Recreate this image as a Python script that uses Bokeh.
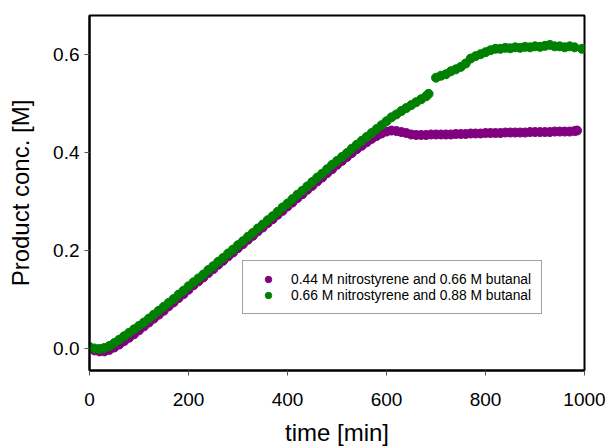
from bokeh.plotting import figure
from bokeh.models import Legend, LegendItem, FixedTicker, PrintfTickFormatter, Range1d
from bokeh.embed import file_html
from bokeh.resources import INLINE

# ---- data ----
time_purple = [0, 10, 20, 30, 40, 50, 60, 70, 80, 90,
               100, 110, 120, 130, 140, 150, 160, 170, 180, 190,
               200, 210, 220, 230, 240, 250, 260, 270, 280, 290,
               300, 310, 320, 330, 340, 350, 360, 370, 380, 390,
               400, 410, 420, 430, 440, 450, 460, 470, 480, 490,
               500, 510, 520, 530, 540, 550, 560, 570, 580, 590,
               600, 610, 620, 630, 640, 650, 660, 670, 680, 690,
               700, 710, 720, 730, 740, 750, 760, 770, 780, 790,
               800, 810, 820, 830, 840, 850, 860, 870, 880, 890,
               900, 910, 920, 930, 940, 950, 960, 970, 980, 985]
conc_purple = [0.000, -0.004, -0.006, -0.006, -0.003, 0.002, 0.008, 0.015, 0.022, 0.029,
               0.037, 0.045, 0.053, 0.061, 0.069, 0.077, 0.086, 0.094, 0.103, 0.111,
               0.120, 0.129, 0.137, 0.145, 0.154, 0.162, 0.171, 0.179, 0.188, 0.196,
               0.205, 0.213, 0.222, 0.230, 0.239, 0.247, 0.256, 0.264, 0.273, 0.281,
               0.290, 0.298, 0.307, 0.315, 0.324, 0.332, 0.341, 0.349, 0.358, 0.366,
               0.375, 0.383, 0.391, 0.399, 0.407, 0.414, 0.421, 0.428, 0.434, 0.439,
               0.443, 0.445, 0.444, 0.442, 0.440, 0.437, 0.436, 0.436, 0.436, 0.437,
               0.437, 0.437, 0.437, 0.437, 0.438, 0.438, 0.438, 0.439, 0.439, 0.439,
               0.440, 0.440, 0.440, 0.440, 0.441, 0.441, 0.441, 0.441, 0.441, 0.442,
               0.442, 0.442, 0.442, 0.442, 0.443, 0.443, 0.443, 0.443, 0.444, 0.445]

time_green = [0, 10, 20, 30, 40, 50, 60, 70, 80, 90,
              100, 110, 120, 130, 140, 150, 160, 170, 180, 190,
              200, 210, 220, 230, 240, 250, 260, 270, 280, 290,
              300, 310, 320, 330, 340, 350, 360, 370, 380, 390,
              400, 410, 420, 430, 440, 450, 460, 470, 480, 490,
              500, 510, 520, 530, 540, 550, 560, 570, 580, 590,
              600, 610, 620, 630, 640, 650, 660, 670, 680, 685,
              700, 710, 720, 730, 740, 750, 760, 770, 780, 790,
              800, 810, 820, 830, 840, 850, 860, 870, 880, 890,
              900, 910, 920, 930, 940, 950, 960, 970, 980, 995]
conc_green = [0.003, 0.000, -0.001, 0.001, 0.005, 0.011, 0.018, 0.025, 0.032, 0.039,
              0.046, 0.053, 0.061, 0.069, 0.077, 0.085, 0.093, 0.101, 0.110, 0.118,
              0.127, 0.135, 0.143, 0.151, 0.160, 0.168, 0.177, 0.185, 0.194, 0.202,
              0.211, 0.219, 0.228, 0.236, 0.245, 0.253, 0.262, 0.270, 0.279, 0.288,
              0.296, 0.305, 0.314, 0.322, 0.331, 0.340, 0.349, 0.357, 0.366, 0.375,
              0.383, 0.391, 0.399, 0.408, 0.416, 0.424, 0.432, 0.440, 0.448, 0.456,
              0.464, 0.472, 0.478, 0.485, 0.491, 0.497, 0.503, 0.509, 0.515, 0.520,
              0.553, 0.557, 0.560, 0.566, 0.570, 0.575, 0.582, 0.592, 0.597, 0.601,
              0.605, 0.609, 0.612, 0.612, 0.614, 0.613, 0.615, 0.614, 0.616, 0.615,
              0.617, 0.616, 0.618, 0.620, 0.617, 0.617, 0.615, 0.617, 0.615, 0.612]

label_purple = "0.44 M nitrostyrene and 0.66 M butanal"
label_green = "0.66 M nitrostyrene and 0.88 M butanal"
x_ticks = [0, 200, 400, 600, 800, 1000]
y_ticks = [0.0, 0.2, 0.4, 0.6]

FONT = "Liberation Sans"

p = figure(width=607, height=448, output_backend="svg", toolbar_location=None,
           x_range=Range1d(0, 1000), y_range=Range1d(-0.045, 0.680),
           min_border_left=89, min_border_right=23, min_border_top=15,
           min_border_bottom=78)

r_p = p.scatter(time_purple, conc_purple, size=9, color="#800080")
r_g = p.scatter(time_green, conc_green, size=9, color="#008000")

p.xgrid.visible = False
p.ygrid.visible = False
p.outline_line_color = "black"
p.outline_line_width = 2
p.outline_line_alpha = 1

for ax in (p.xaxis[0], p.yaxis[0]):
    ax.axis_line_color = "black"
    ax.axis_line_width = 2
    ax.major_tick_in = 0
    ax.major_tick_out = 5
    ax.major_tick_line_color = "#555555"
    ax.minor_tick_line_color = None
    ax.major_label_text_font = FONT
    ax.major_label_text_font_size = "19px"
    ax.major_label_text_color = "black"
    ax.axis_label_text_font = FONT
    ax.axis_label_text_font_size = "24px"
    ax.axis_label_text_font_style = "normal"
    ax.axis_label_text_color = "black"

p.xaxis.ticker = FixedTicker(ticks=x_ticks)
p.yaxis.ticker = FixedTicker(ticks=y_ticks)
p.yaxis.formatter = PrintfTickFormatter(format="%.1f")
p.xaxis.axis_label = "time [min]"
p.yaxis.axis_label = "Product conc. [M]"
p.xaxis.major_label_standoff = 17
p.xaxis.axis_label_standoff = 10
p.yaxis.major_label_standoff = 5
p.yaxis.axis_label_standoff = 16

legend = Legend(items=[LegendItem(label=label_purple, renderers=[r_p]),
                       LegendItem(label=label_green, renderers=[r_g])],
                location=(153, 56), orientation="vertical",
                label_text_font=FONT, label_text_font_size="13.8px",
                label_text_color="black",
                glyph_width=30, glyph_height=16, label_height=16,
                label_standoff=8, spacing=0, padding=10, margin=0,
                border_line_color="#404040", border_line_width=1,
                background_fill_color="white", background_fill_alpha=1)
p.add_layout(legend, "center")

open("out.html", "w").write(file_html(p, INLINE))
